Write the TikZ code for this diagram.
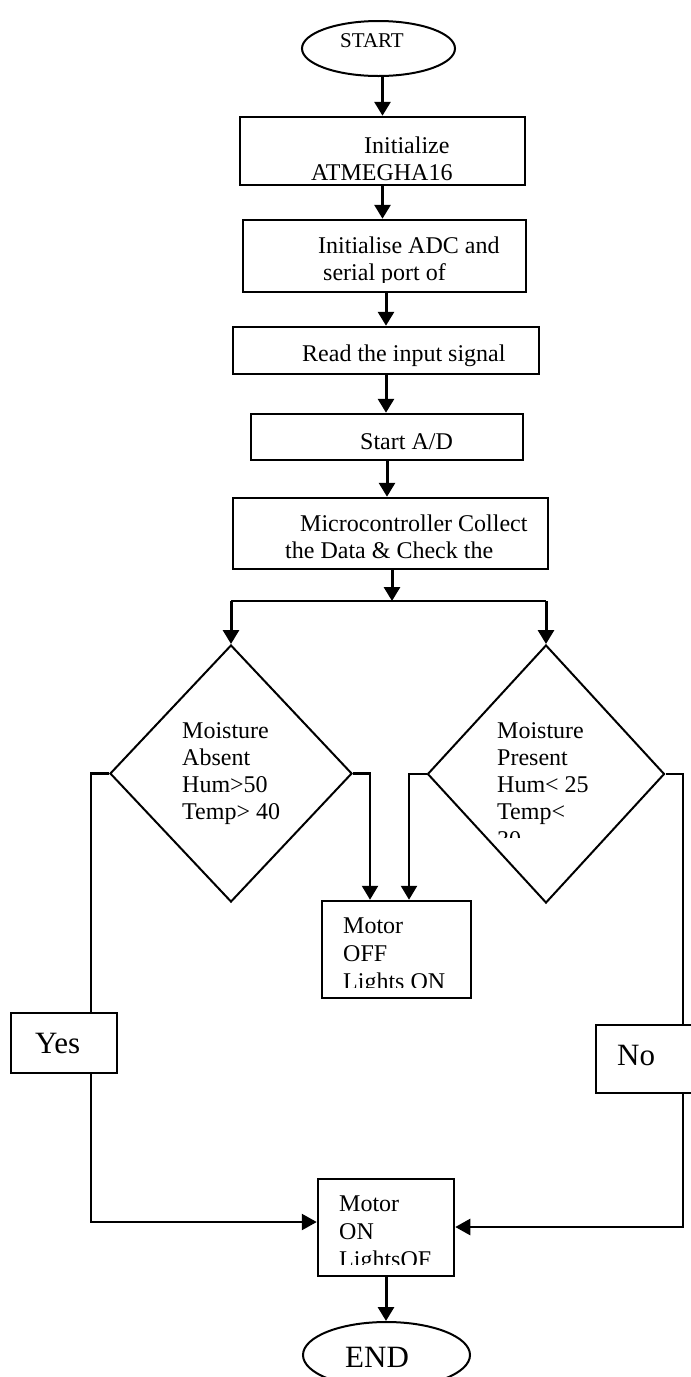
\documentclass[tikz,border=0pt]{standalone}
\usepackage{fontspec}
\setmainfont{Liberation Serif}
\usetikzlibrary{shapes.geometric,arrows.meta,calc}
\newcommand\fsz[1]{\fontsize{#1}{#1}\selectfont}
\begin{document}
\begin{tikzpicture}[x=1pt,y=-1pt,
  box/.style={draw,line width=2.5pt,inner sep=0pt,rectangle},
  dia/.style={draw,line width=2pt,diamond,inner sep=0pt},
  ell/.style={draw,line width=2pt,ellipse,inner sep=0pt},
  arr/.style={line width=3pt,-{Triangle[length=14pt,width=16pt]}},
  con/.style={line width=2.2pt},
  conarr/.style={line width=2.5pt,-{Triangle[length=15pt,width=16pt]}},
  txt/.style={inner sep=0pt,anchor=base west,font=\fsz{24}},
  big/.style={inner sep=0pt,anchor=base west,font=\fsz{31}}]
\clip (0,0) rectangle (691,1377);
\fill[white] (0,0) rectangle (691,1377);

% shapes
\node[ell,minimum width=153pt,minimum height=55pt] (start) at (378.5,48.5) {};
\node[box,minimum width=285pt,minimum height=68pt] (b1) at (382.5,151) {};
\node[box,minimum width=283pt,minimum height=72pt] (b2) at (384.5,256) {};
\node[box,minimum width=306pt,minimum height=47pt] (b3) at (386,350.5) {};
\node[box,minimum width=272pt,minimum height=46pt] (b4) at (387,437) {};
\node[box,minimum width=315pt,minimum height=71pt] (b5) at (390.5,533.5) {};
\node[dia,minimum width=242pt,minimum height=257pt] (d1) at (231,773.5) {};
\node[dia,minimum width=237pt,minimum height=258pt] (d2) at (546,774) {};
\node[box,minimum width=149pt,minimum height=97pt] (moff) at (396.5,949.5) {};
\node[box,minimum width=106pt,minimum height=60pt] (yes) at (64,1043) {};
\node[box,minimum width=124pt,minimum height=68pt] (no) at (658,1059) {};
\node[box,minimum width=136pt,minimum height=97pt] (mon) at (386,1227.5) {};
\node[ell,minimum width=167pt,minimum height=66pt] (end) at (386.5,1355) {};

% helper coordinates
\coordinate (split) at (392,601);
\coordinate (yl) at (91,0);
\coordinate (rl) at (683,0);
\coordinate (m1) at (370,0);
\coordinate (m2) at (409,0);
\coordinate (yj) at (91,1222);
\coordinate (nj) at (683,1227);

% texts
\node[inner sep=0pt,anchor=base,font=\fsz{21}] (tstart) at (372,47) {START};
\node[txt] (t1a) at (364,153) {Initialize};
\begin{scope}
\clip (240,117) rectangle (525,182);
\node[txt] (t1b) at (311,180) {ATMEGHA16};
\end{scope}
\node[txt] (t2a) at (318,253) {Initialise ADC and};
\begin{scope}
\clip (243,220) rectangle (526,282);
\node[txt] (t2b) at (323,280) {serial port of};
\end{scope}
\node[txt] (t3) at (302,361) {Read the input signal};
\node[txt] (t4) at (360,449) {Start A/D};
\node[txt] (t5a) at (300,531) {Microcontroller Collect};
\node[txt] (t5b) at (285,558) {the Data \& Check the};

\node[txt] (l1) at (182,738) {Moisture};
\node[txt] (l2) at (182,765) {Absent};
\node[txt] (l3) at (182,792) {Hum>50};
\node[txt] (l4) at (182,819) {Temp> 40};

\node[txt] (r1) at (497,738) {Moisture};
\node[txt] (r2) at (497,765) {Present};
\node[txt] (r3) at (497,792) {Hum< 25};
\node[txt] (r4) at (497,819) {Temp<};
\begin{scope}
\clip (480,800) rectangle (620,837);
\node[txt] (r5) at (497,847) {30};
\end{scope}

\node[txt] (o1) at (343,933) {Motor};
\node[txt] (o2) at (343,961) {OFF};
\begin{scope}
\clip (322,901) rectangle (471,987);
\node[txt] (o3) at (343,989) {Lights ON};
\end{scope}

\node[big] (tyes) at (35,1053) {Yes};
\node[big] (tno) at (617,1065) {No};

\node[txt] (n1) at (339,1211) {Motor};
\node[txt] (n2) at (339,1239) {ON};
\begin{scope}
\clip (318,1179) rectangle (454,1264);
\node[txt] (n3) at (339,1267) {LightsOF};
\end{scope}

\node[big] (tend) at (345,1367) {END};

% connectors
\draw[arr] (start.south -| b1.north) -- (b1.north);
\draw[arr] (b1.south) -- (b1.south |- b2.north);
\draw[arr] (b3.north |- b2.south) -- (b3.north);
\draw[arr] (b3.south) -- (b3.south |- b4.north);
\draw[arr] (b4.south) -- (b4.south |- b5.north);
\draw[arr] (b5.south -| split) -- (split);
\draw[line width=2.5pt] (d1.north |- split) -- (d2.north |- split);
\draw[arr] (d1.north |- split) -- (d1.north);
\draw[arr] (d2.north |- split) -- (d2.north);

\draw[arr,line width=2.5pt] (d1.east) -- (d1.east -| m1) -- (moff.north -| m1);
\draw[arr,line width=2.5pt] (d2.west) -- (d2.west -| m2) -- (moff.north -| m2);

\draw[con] (d1.west) -- (d1.west -| yl) -- (yes.north -| yl);
\draw[conarr] (yes.south -| yl) -- (yj) -- (yj -| mon.west);
\draw[con] (d2.east) -- (d2.east -| rl) -- (no.north -| rl);
\draw[conarr] (no.south -| rl) -- (nj) -- (nj -| mon.east);

\draw[arr] (mon.south) -- (mon.south |- end.north);
\end{tikzpicture}
\end{document}
